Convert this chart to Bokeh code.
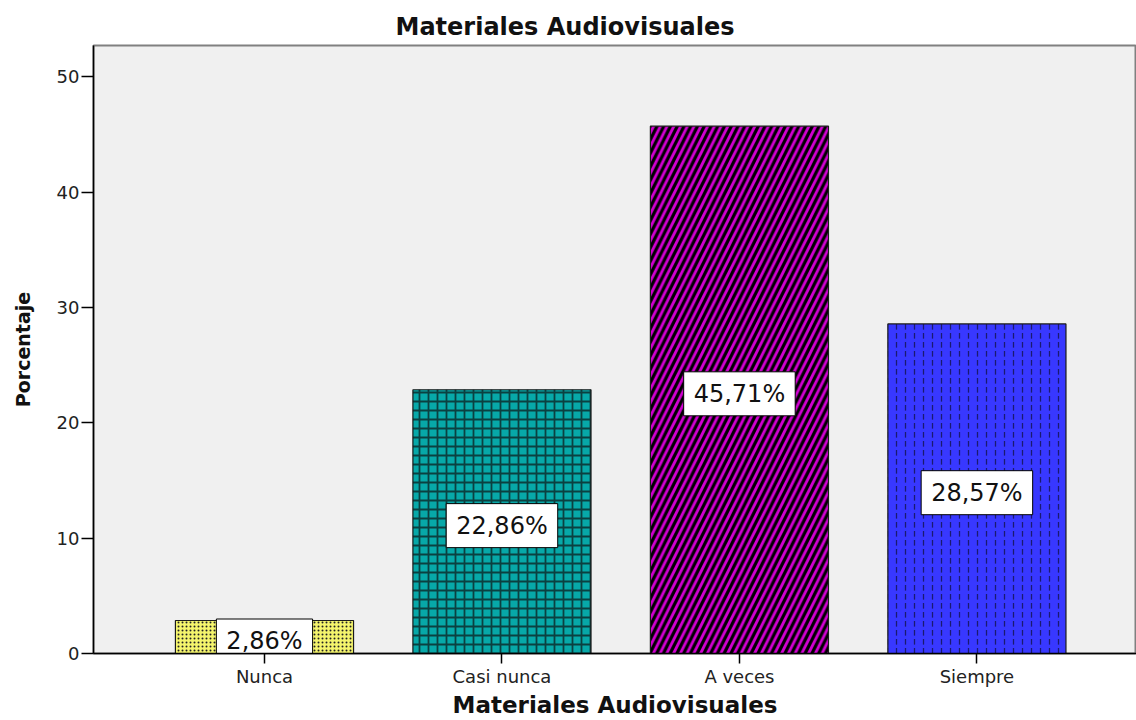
from bokeh.plotting import figure
from bokeh.models import Range1d, FixedTicker, ColumnDataSource
from bokeh.embed import file_html
from bokeh.resources import INLINE
from bokeh.core.properties import value

categories = ["Nunca", "Casi nunca", "A veces", "Siempre"]
percentages = [2.86, 22.86, 45.71, 28.57]
y_ticks = [0, 10, 20, 30, 40, 50]

fill_colors = ["#f4f46c", "#07a8a8", "#d200d2", "#3838ff"]
hatch_patterns = ["dot", "cross", "right_diagonal_line", "vertical_dash"]
hatch_colors = ["#222222", "#0b4040", "#000000", "#1a1a70"]
hatch_scales = [4, 9, 13.5, 9]
hatch_weights = [1.2, 1.8, 3.2, 1.3]

xs = list(range(len(categories)))
labels = [f"{v:.2f}%".replace(".", ",") for v in percentages]

p = figure(width=1136, height=720, output_backend="svg", toolbar_location=None,
           x_range=Range1d(-0.72, 3.672), y_range=Range1d(0, 52.7),
           min_border_left=93, min_border_right=0, min_border_top=45,
           min_border_bottom=65)

p.background_fill_color = "#f0f0f0"
p.border_fill_color = "white"
p.outline_line_color = "#808080"
p.outline_line_width = 2
p.grid.visible = False

for i in xs:
    src = ColumnDataSource(dict(x=[xs[i]], top=[percentages[i]]))
    p.vbar(x="x", top="top", bottom=0, width=0.75, source=src,
           fill_color=fill_colors[i], line_color="#1a1a1a", line_width=1.2,
           hatch_pattern=hatch_patterns[i], hatch_color=hatch_colors[i],
           hatch_scale=hatch_scales[i], hatch_weight=hatch_weights[i])

lsrc = ColumnDataSource(dict(x=xs, y=[v / 2 for v in percentages], text=labels))
p.text(x="x", y="y", text="text", source=lsrc, text_align="center",
       text_baseline="middle", text_font=value("DejaVu Sans"),
       text_font_size="24px", text_color="#111111", y_offset=4,
       background_fill_color="white", border_line_color="black",
       border_line_width=1, padding=(10, 8))

p.title.text = "Materiales Audiovisuales"
p.title.align = "left"
p.title.offset = 302
p.title.text_font = "DejaVu Sans"
p.title.text_font_style = "bold"
p.title.text_font_size = "24px"
p.title.text_color = "#111111"
p.title.standoff = 10

p.xaxis.ticker = FixedTicker(ticks=xs)
p.xaxis.major_label_overrides = {i: c for i, c in zip(xs, categories)}
p.yaxis.ticker = FixedTicker(ticks=y_ticks)

for ax in (p.xaxis, p.yaxis):
    ax.axis_line_color = "black"
    ax.axis_line_width = 1.5
    ax.major_tick_line_color = "black"
    ax.major_tick_line_width = 1.5
    ax.major_tick_in = 0
    ax.minor_tick_line_color = None
    ax.major_label_text_font = "DejaVu Sans"
    ax.major_label_text_font_size = "18px"
    ax.major_label_text_color = "#222222"
    ax.axis_label_text_font = "DejaVu Sans"
    ax.axis_label_text_font_style = "bold"
    ax.axis_label_text_color = "#111111"

p.xaxis.major_tick_out = 10
p.xaxis.major_label_standoff = 2
p.xaxis.axis_label = "Materiales Audiovisuales"
p.xaxis.axis_label_text_font_size = "23px"
p.xaxis.axis_label_standoff = 2

p.yaxis.major_tick_out = 12
p.yaxis.major_label_standoff = 2
p.yaxis.axis_label = "Porcentaje"
p.yaxis.axis_label_text_font_size = "19px"
p.yaxis.axis_label_standoff = 20

open("out.html", "w").write(file_html(p, INLINE))
